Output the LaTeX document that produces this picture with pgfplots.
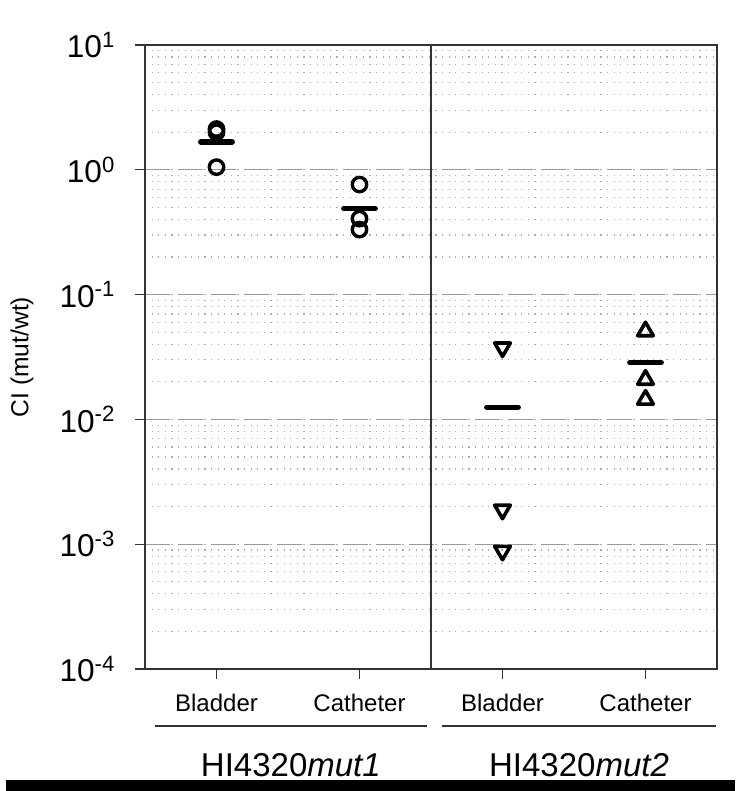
\documentclass[border=0pt]{standalone}
\usepackage{pgfplots}
\pgfplotsset{compat=1.18}
\usepackage{fontspec}
\setmainfont{Liberation Sans}

\definecolor{axisgray}{HTML}{333333}
\definecolor{gridgray}{HTML}{999999}

\begin{document}
\begin{tikzpicture}
\path[use as bounding box] (-72.5pt,-61pt) rectangle (295pt,334.5pt);
\begin{axis}[
    at={(0,0)}, anchor=south west,
    scale only axis, width=286pt, height=312pt,
    ymode=log, ymin=1e-4, ymax=10,
    xmin=0.5, xmax=4.5,
    xtick={1,2,3,4},
    xticklabels={Bladder,Catheter,Bladder,Catheter},
    ytick={1e-4,1e-3,1e-2,1e-1,1,10},
    yticklabels={10\textsuperscript{-4},10\textsuperscript{-3},10\textsuperscript{-2},10\textsuperscript{-1},10\textsuperscript{0},10\textsuperscript{1}},
    xtick pos=bottom, ytick pos=left,
    tick align=outside,
    major tick length=5pt, minor tick length=0pt,
    tick style={axisgray, line width=0.7pt},
    axis line style={axisgray, line width=0.8pt},
    ymajorgrids, yminorgrids,
    major grid style={gridgray, line width=0.6pt, dash pattern=on 12.5pt off 4pt},
    minor grid style={gridgray!80, line width=0.6pt, dash pattern=on 0.6pt off 2.7pt},
    yticklabel style={font=\fontsize{15.8}{17}\selectfont, anchor=east, xshift=-6.3pt},
    xticklabel style={font=\fontsize{12}{14}\selectfont, anchor=north, yshift=-4pt},
    ylabel={CI (mut/wt)},
    every axis y label/.style={at={(axis description cs:-0.215,0.5)}, anchor=center, rotate=90, font=\fontsize{12.3}{14}\selectfont},
    clip=false,
]
% individual values
\addplot[only marks, mark=o, mark size=3.6pt, mark options={black, line width=1.7pt}]
    coordinates {(1,2.12) (1,2.0) (1,1.05) (2,0.762) (2,0.406) (2,0.332)};
\addplot[only marks, mark=triangle, mark size=4.5pt, mark options={black, line width=1.8pt, rotate=180, line join=round}]
    coordinates {(3,0.0377) (3,0.00189) (3,0.000885)};
\addplot[only marks, mark=triangle, mark size=4.5pt, mark options={black, line width=1.8pt, line join=round}]
    coordinates {(4,0.0509) (4,0.0208) (4,0.0144)};
% means
\addplot[black, line width=2.7pt, line cap=round] coordinates {(0.89,1.67) (1.11,1.67)};
\addplot[black, line width=2.7pt, line cap=round] coordinates {(1.89,0.489) (2.11,0.489)};
\addplot[black, line width=2.7pt, line cap=round] coordinates {(2.89,0.0125) (3.11,0.0125)};
\addplot[black, line width=2.7pt, line cap=round] coordinates {(3.89,0.0286) (4.11,0.0286)};

\draw[axisgray, line width=0.6pt] (axis cs:2.5,1e-4) -- (axis cs:2.5,10);
\draw[axisgray, line width=0.75pt] ([yshift=-28.5pt]axis cs:0.57,1e-4) -- ([yshift=-28.5pt]axis cs:2.47,1e-4);
\draw[axisgray, line width=0.75pt] ([yshift=-28.5pt]axis cs:2.58,1e-4) -- ([yshift=-28.5pt]axis cs:4.49,1e-4);
\node[font=\fontsize{16.5}{18}\selectfont] at ([yshift=-48pt]axis cs:1.52,1e-4) {HI4320\textit{mut1}};
\node[font=\fontsize{16.5}{18}\selectfont] at ([yshift=-48pt]axis cs:3.535,1e-4) {HI4320\textit{mut2}};
\end{axis}
\fill[black] (-69.5pt,-55.5pt) rectangle (295pt,-61pt);
\end{tikzpicture}
\end{document}
